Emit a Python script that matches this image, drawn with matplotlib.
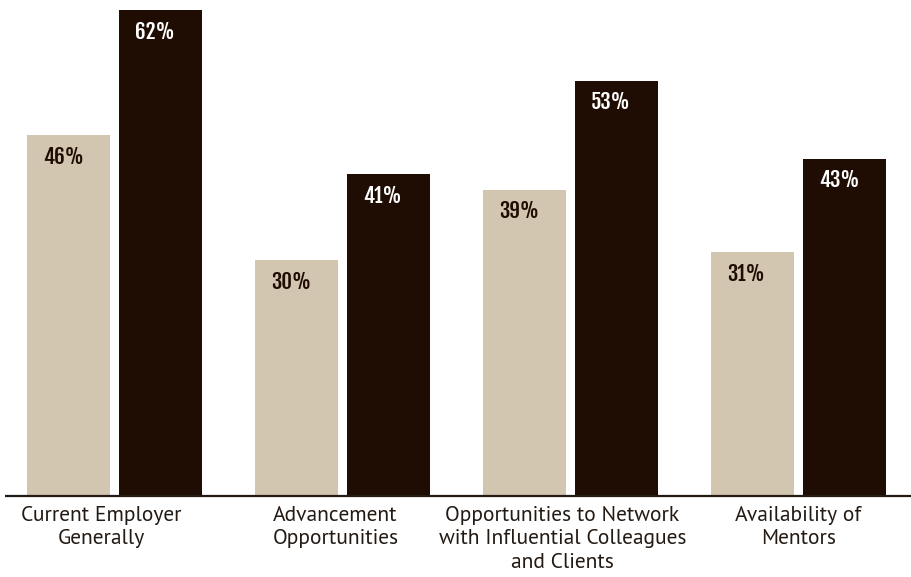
import matplotlib
matplotlib.use("Agg")
import matplotlib.pyplot as plt
from matplotlib import font_manager
import numpy as np

# Survey results: share of respondents satisfied, by item and group
categories = [
    "Current Employer\nGenerally",
    "Advancement\nOpportunities",
    "Opportunities to Network\nwith Influential Colleagues\nand Clients",
    "Availability of\nMentors",
]
group_a = [46, 30, 39, 31]
group_b = [62, 41, 53, 43]
value_labels_a = ["46%", "30%", "39%", "31%"]
value_labels_b = ["62%", "41%", "53%", "43%"]

LIGHT = "#d3c6b0"
DARK = "#1f0d03"
TEXT = "#231a14"


def first_font(names):
    have = {f.name for f in font_manager.fontManager.ttflist}
    for n in names:
        if n in have:
            return n
    return "DejaVu Sans"


num_font = first_font(["Fjalla One", "Oswald", "Roboto Condensed",
                       "Barlow Condensed", "DejaVu Sans"])
cat_font = first_font(["PT Sans", "Fira Sans", "Lato", "DejaVu Sans"])

W, H, DPI = 911, 577, 100
fig = plt.figure(figsize=(W / DPI, H / DPI), dpi=DPI)

# axes spans full width; baseline sits 82.5 px above the bottom edge
px_per_unit_y = 7.81
ax_bottom_px = 60
zero_px = 82.5
ax = fig.add_axes([0, ax_bottom_px / H, 1, (H - ax_bottom_px) / H])
ax.set_ylim(-(zero_px - ax_bottom_px) / px_per_unit_y,
            (H - zero_px) / px_per_unit_y)

group_px = 228.0
first_center_px = 114.5
ax.set_xlim(-first_center_px / group_px, (W - first_center_px) / group_px)

x = np.arange(len(categories))
width = 83 / group_px
offset = 46 / group_px

bars_a = ax.bar(x - offset, group_a, width, color=LIGHT, zorder=2)
bars_b = ax.bar(x + offset, group_b, width, color=DARK, zorder=2)

# value labels inside the top-left of each bar
for bars, labels, col in ((bars_a, value_labels_a, DARK), (bars_b, value_labels_b, "white")):
    for b, lab in zip(bars, labels):
        ax.annotate(lab, (b.get_x(), b.get_height()),
                    xytext=(11.5, -7.5), textcoords="offset points",
                    ha="left", va="top", color=col, fontsize=15,
                    fontweight="bold", family=num_font, zorder=3)

# baseline rule
ax.axhline(-0.22, xmin=5 / W, xmax=1, color=TEXT, lw=1.6, zorder=4,
           solid_capstyle="butt")

# category labels below the baseline
label_shift_px = [-13, -7, -8, 0]
for xi, cat, sh in zip(x, categories, label_shift_px):
    ax.annotate(cat, (xi, 0), xytext=(sh * 72 / DPI, -8),
                textcoords="offset points", ha="center", va="top",
                fontsize=15.5, color=TEXT, family=cat_font,
                linespacing=1.3, annotation_clip=False)

ax.axis("off")
fig.savefig("out.png", dpi=DPI)
